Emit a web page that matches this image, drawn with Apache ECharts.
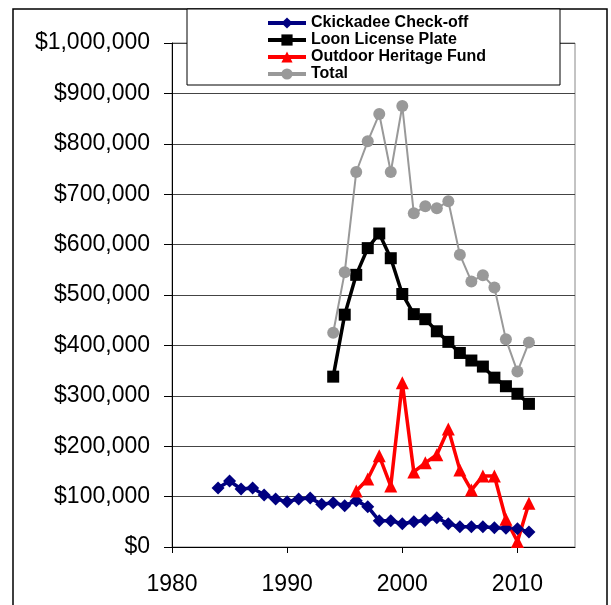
<!DOCTYPE html>
<html>
<head>
<meta charset="utf-8">
<script src="https://cdn.jsdelivr.net/npm/echarts@6/dist/echarts.min.js"></script>
<style>
  html, body { margin: 0; padding: 0; background: #fff; }
  #chart { width: 611px; height: 605px; }
</style>
</head>
<body>
<div id="chart"></div>
<script>
// years for each series
const chickadeeYears = [1984, 1985, 1986, 1987, 1988, 1989, 1990, 1991, 1992, 1993, 1994, 1995, 1996, 1997,
  1998, 1999, 2000, 2001, 2002, 2003, 2004, 2005, 2006, 2007, 2008, 2009, 2010, 2011]
const laterYears = [1994, 1995, 1996, 1997, 1998, 1999, 2000, 2001, 2002, 2003, 2004, 2005, 2006, 2007, 2008, 2009, 2010, 2011]
const heritageYears = [1996, 1997, 1998, 1999, 2000, 2001, 2002, 2003, 2004, 2005, 2006, 2007, 2008, 2009, 2010, 2011]

// dollar values
const chickadee = [117000, 131000, 115000, 117000, 103000, 95000, 90000, 95000, 97000, 85000, 88000, 82000, 92000, 80000,
  52000, 52000, 46000, 50000, 53000, 58000, 46000, 40000, 40000, 40000, 38000, 37000, 36000, 30000]
const loon = [338000, 461000, 540000, 593000, 622000, 573000, 502000, 462000, 452000, 428000, 407000, 385000, 370000, 358000,
  336000, 319000, 304000, 284000]
const heritage = [111000, 135000, 181000, 121000, 326000, 149000, 167000, 183000, 234000, 153000, 113000, 141000, 141000,
  55000, 11000, 87000]
const total = [425000, 545000, 744000, 805000, 859000, 744000, 875000, 662000, 676000, 672000, 686000, 580000, 527000, 539000,
  515000, 412000, 348000, 406000]

const xTicks = [1980, 1990, 2000, 2010]

const FONT = 'Liberation Sans, Arial, sans-serif'

function pairs(xs, ys) {
  return xs.map((x, i) => [x, ys[i]])
}

function money(v) {
  return '$' + String(v).replace(/\B(?=(\d{3})+(?!\d))/g, ',')
}

const chart = echarts.init(document.getElementById('chart'))
chart.setOption({
  backgroundColor: '#fff',
  animation: false,
  textStyle: { fontFamily: FONT },
  graphic: [
    {
      // outer frame
      type: 'rect',
      z: 0,
      shape: { x: 13, y: 9, width: 594, height: 620 },
      style: { fill: null, stroke: '#000', lineWidth: 1.5 }
    },
    {
      // legend box
      type: 'rect',
      z: 3,
      shape: { x: 187, y: 9, width: 373, height: 76 },
      style: { fill: '#fff', stroke: '#000', lineWidth: 1 }
    }
  ],
  legend: {
    orient: 'vertical',
    left: 266,
    top: 15,
    padding: 0,
    itemGap: 1,
    itemWidth: 38,
    itemHeight: 14,
    z: 5,
    selectedMode: false,
    lineStyle: { width: 4 },
    textStyle: {
      fontFamily: FONT,
      fontWeight: 'bold',
      fontSize: 16,
      lineHeight: 16,
      color: '#000'
    },
    data: ['Ckickadee Check-off', 'Loon License Plate', 'Outdoor Heritage Fund', 'Total']
  },
  grid: {
    left: 172,
    right: 36,
    top: 43,
    bottom: 58,
    show: true,
    borderColor: '#888',
    borderWidth: 1
  },
  xAxis: {
    type: 'value',
    min: 1980,
    max: 2015,
    interval: 10,
    axisLine: { lineStyle: { color: '#000', width: 1 } },
    axisTick: { show: true, length: 6, lineStyle: { color: '#000' }, customValues: xTicks },
    axisLabel: {
      color: '#000',
      fontSize: 23,
      fontFamily: FONT,
      margin: 26,
      customValues: xTicks,
      formatter: v => String(v)
    },
    splitLine: { show: false }
  },
  yAxis: {
    type: 'value',
    min: 0,
    max: 1000000,
    interval: 100000,
    axisLine: { show: true, lineStyle: { color: '#000', width: 1 } },
    axisTick: { show: true, length: 8, lineStyle: { color: '#000' } },
    axisLabel: {
      color: '#000',
      fontSize: 23,
      fontFamily: FONT,
      margin: 22,
      formatter: money
    },
    splitLine: { show: true, lineStyle: { color: '#444', width: 1 } }
  },
  series: [
    {
      name: 'Ckickadee Check-off',
      type: 'line',
      symbol: 'diamond',
      symbolSize: 13,
      itemStyle: { color: '#000080' },
      lineStyle: { color: '#000080', width: 3.5 },
      data: pairs(chickadeeYears, chickadee)
    },
    {
      name: 'Loon License Plate',
      type: 'line',
      symbol: 'rect',
      symbolSize: 12,
      itemStyle: { color: '#000' },
      lineStyle: { color: '#000', width: 3.5 },
      data: pairs(laterYears, loon)
    },
    {
      name: 'Outdoor Heritage Fund',
      type: 'line',
      symbol: 'triangle',
      symbolSize: 13,
      itemStyle: { color: '#ff0000' },
      lineStyle: { color: '#ff0000', width: 3.5 },
      data: pairs(heritageYears, heritage)
    },
    {
      name: 'Total',
      type: 'line',
      symbol: 'circle',
      symbolSize: 12,
      itemStyle: { color: '#999' },
      lineStyle: { color: '#999', width: 2 },
      data: pairs(laterYears, total)
    }
  ]
})
</script>
</body>
</html>
